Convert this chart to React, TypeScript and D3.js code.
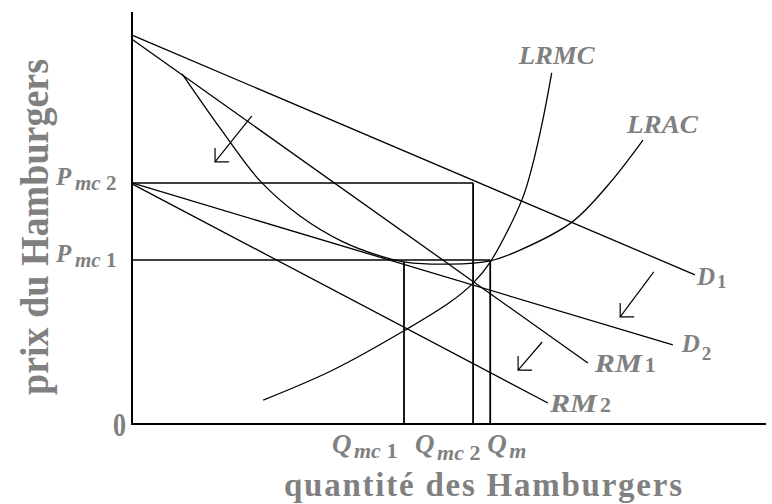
import React from "react";
import * as d3 from "d3";

// ---- data (quantity 0..100, price 0..100) ----
const demandD1: [number, number][] = [[0, 94.4], [88.8, 36.2]];
const revenueRM1: [number, number][] = [[0, 93.4], [71.9, 14.8]];
const demandD2: [number, number][] = [[0, 58.5], [85.3, 19.2]];
const revenueRM2: [number, number][] = [[0, 58.3], [65.6, 5.1]];

const lrmcPoints: [number, number][] = [
  [20.7, 5.8], [31.7, 13.1], [43.1, 22.8], [50.2, 29.6], [53.8, 34.2],
  [56.5, 39.3], [61.5, 54.4], [63.1, 62.4], [64.8, 73.8], [66.2, 85.2],
];
const lracPoints: [number, number][] = [
  [7.9, 85.0], [13.9, 71.8], [20.2, 59.0], [26.5, 50.5], [33.3, 44.2],
  [39.1, 40.8], [43.1, 39.3], [50.2, 38.8], [56.5, 39.6], [61.2, 42.2],
  [69.4, 49.0], [75.1, 58.0], [80.6, 68.9],
];

const qNames = ["mc 1", "mc 2", "m"];
const qValues = [42.9, 53.8, 56.5];
const qTop = [39.3, 58.5, 39.8];
const pNames = ["mc 1", "mc 2"];
const pValues = [39.8, 58.5];
const pRight = [56.5, 53.8];

const shiftArrows: [number, number][][] = [
  [[18.9, 74.8], [13.1, 63.6]],
  [[82.3, 36.9], [77.0, 26.0]],
  [[64.7, 19.9], [60.9, 13.1]],
];

const xTitle = "quantité des Hamburgers";
const yTitle = "prix du Hamburgers";

const W = 772;
const H = 504;
const x = d3.scaleLinear().domain([0, 100]).range([132, 766]);
const y = d3.scaleLinear().domain([0, 100]).range([424, 12]);
const line = d3.line<[number, number]>().x((d) => x(d[0])).y((d) => y(d[1]));
const curve = d3
  .line<[number, number]>()
  .x((d) => x(d[0]))
  .y((d) => y(d[1]))
  .curve(d3.curveCatmullRom.alpha(0.5));

const FONT = "'Liberation Serif', 'Times New Roman', serif";
const GRAY = "#808080";

export default function App() {
  const qOffsets = [-72, -58, -3];
  const qSubDy = [5, 7, 5];
  return (
    <svg
      width={W}
      height={H}
      style={{ position: "absolute", left: 0, top: 0, background: "#fff" }}
      fontFamily={FONT}
    >
      <rect width={W} height={H} fill="#fff" />
      {/* axes */}
      <path d={line([[0, 100], [0, 0], [100, 0]])!} fill="none" stroke="#000" strokeWidth={2} />

      {/* guide lines */}
      {pValues.map((p, i) => (
        <path key={"p" + i} d={line([[0, p], [pRight[i], p]])!} stroke="#000" strokeWidth={1.6} fill="none" />
      ))}
      {qValues.map((q, i) => (
        <path key={"q" + i} d={line([[q, 0], [q, qTop[i]]])!} stroke="#000" strokeWidth={1.8} fill="none" />
      ))}

      {/* demand and revenue lines */}
      {[demandD1, revenueRM1, demandD2, revenueRM2].map((l, i) => (
        <path key={"l" + i} d={line(l)!} stroke="#000" strokeWidth={1.3} fill="none" />
      ))}
      <path d={curve(lrmcPoints)!} stroke="#000" strokeWidth={1.3} fill="none" />
      <path d={curve(lracPoints)!} stroke="#000" strokeWidth={1.3} fill="none" />

      {/* shift arrows */}
      {shiftArrows.map((a, i) => {
        const ex = x(a[1][0]);
        const ey = y(a[1][1]);
        return (
          <g key={"a" + i} stroke="#000" strokeWidth={1.2} fill="none">
            <path d={line(a)!} />
            <path d={`M${ex},${ey - 14}L${ex},${ey}L${ex + 14},${ey}`} />
          </g>
        );
      })}

      {/* curve labels */}
      <g fill={GRAY} fontStyle="italic" fontWeight="bold">
        <text x={x(lrmcPoints[lrmcPoints.length - 1][0]) - 33} y={y(lrmcPoints[lrmcPoints.length - 1][1]) - 9} fontSize={26} textLength={76} lengthAdjust="spacingAndGlyphs">LRMC</text>
        <text x={x(lracPoints[lracPoints.length - 1][0]) - 16} y={y(lracPoints[lracPoints.length - 1][1]) - 7} fontSize={26} textLength={71} lengthAdjust="spacingAndGlyphs">LRAC</text>

        <text x={x(demandD1[1][0]) + 2} y={y(demandD1[1][1]) + 10} fontSize={25}>D</text>
        <text x={x(demandD1[1][0]) + 22} y={y(demandD1[1][1]) + 13} fontSize={19} fontStyle="normal">1</text>

        <text x={x(demandD2[1][0]) + 9} y={y(demandD2[1][1]) + 7} fontSize={25}>D</text>
        <text x={x(demandD2[1][0]) + 29} y={y(demandD2[1][1]) + 15} fontSize={19} fontStyle="normal">2</text>

        <text x={x(revenueRM1[1][0]) + 7} y={y(revenueRM1[1][1]) + 9} fontSize={25} textLength={47} lengthAdjust="spacingAndGlyphs">RM</text>
        <text x={x(revenueRM1[1][0]) + 57} y={y(revenueRM1[1][1]) + 9} fontSize={22} fontStyle="normal">1</text>

        <text x={x(revenueRM2[1][0]) + 2} y={y(revenueRM2[1][1]) + 9} fontSize={25} textLength={47} lengthAdjust="spacingAndGlyphs">RM</text>
        <text x={x(revenueRM2[1][0]) + 52} y={y(revenueRM2[1][1]) + 9} fontSize={22} fontStyle="normal">2</text>
      </g>

      {/* price labels */}
      <g fill={GRAY} fontWeight="bold">
        {pValues.map((p, i) => (
          <g key={"pl" + i}>
            <text x={x(0) - 76} y={y(p) + 2} fontSize={25} fontStyle="italic">P</text>
            <text x={x(0) - 57} y={y(p) + 7} fontSize={21}>
              <tspan fontStyle="italic">{pNames[i].split(" ")[0]}</tspan>
              <tspan> {pNames[i].split(" ")[1]}</tspan>
            </text>
          </g>
        ))}
        <text x={x(0) - 19} y={y(0) + 12} fontSize={33} textLength={13} lengthAdjust="spacingAndGlyphs">0</text>
      </g>

      {/* quantity labels */}
      <g fill={GRAY} fontWeight="bold">
        {qValues.map((q, i) => {
          const parts = qNames[i].split(" ");
          return (
            <g key={"ql" + i}>
              <text x={x(q) + qOffsets[i]} y={y(0) + 29} fontSize={27} fontStyle="italic">Q</text>
              <text x={x(q) + qOffsets[i] + 22} y={y(0) + 29 + qSubDy[i]} fontSize={22}>
                <tspan fontStyle="italic">{parts[0]}</tspan>
                {parts[1] ? <tspan> {parts[1]}</tspan> : null}
              </text>
            </g>
          );
        })}
      </g>

      {/* axis titles */}
      <text
        transform="translate(48,395) rotate(-90)"
        fill={GRAY}
        fontWeight="bold"
        fontSize={40}
        textLength={336}
        lengthAdjust="spacingAndGlyphs"
      >
        {yTitle}
      </text>
      <text
        x={284}
        y={496}
        fill={GRAY}
        fontWeight="bold"
        fontSize={33}
        textLength={398}
        lengthAdjust="spacing"
      >
        {xTitle}
      </text>
    </svg>
  );
}
